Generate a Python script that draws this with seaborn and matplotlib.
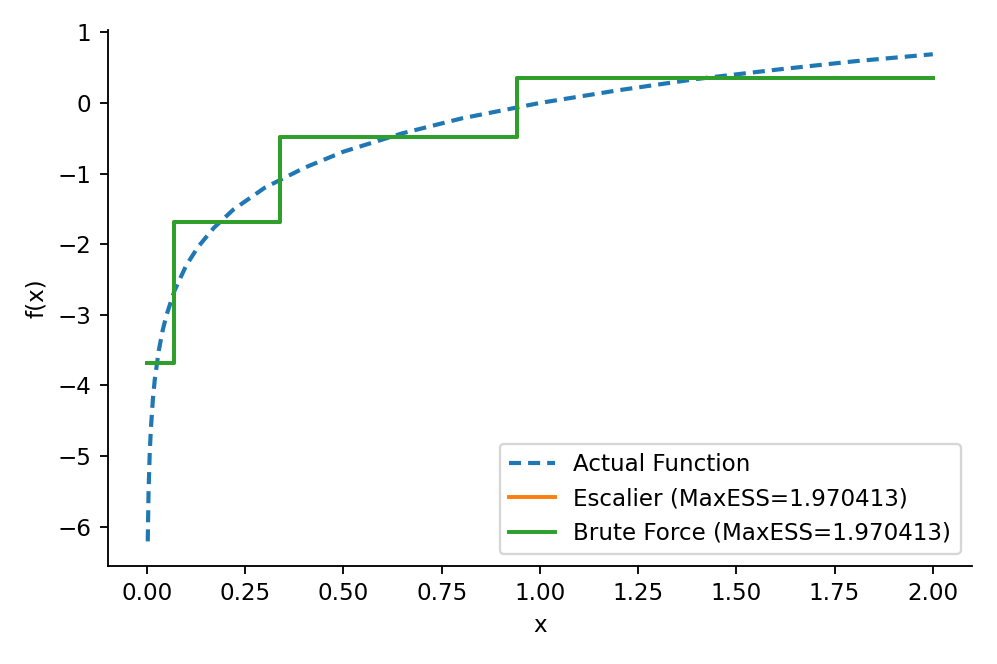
import matplotlib
matplotlib.use("Agg")
import matplotlib.pyplot as plt
import seaborn as sns

# points (fonction réelle)
x_curve = [0.002, 0.004, 0.007, 0.01, 0.015, 0.02, 0.03, 0.04, 0.05, 0.07,
           0.1, 0.13, 0.17, 0.22, 0.3, 0.4, 0.5, 0.65, 0.8, 1.0,
           1.2, 1.4, 1.6, 1.8, 2.0]
y_curve = [-6.21, -5.52, -4.96, -4.61, -4.20, -3.91, -3.51, -3.22, -3.00, -2.66,
           -2.30, -2.04, -1.77, -1.51, -1.20, -0.92, -0.69, -0.43, -0.22, 0.0,
           0.18, 0.34, 0.47, 0.59, 0.69]

# escalier (les deux méthodes donnent le même résultat)
x_steps = [0.0, 0.069, 0.339, 0.943, 2.0]
y_steps = [-3.69, -1.68, -0.48, 0.36, 0.36]

label_curve = "Actual Function"
label_esc = "Escalier (MaxESS=1.970413)"
label_bf = "Brute Force (MaxESS=1.970413)"

fig, ax = plt.subplots(figsize=(997 / 166, 664 / 166), dpi=166)

sns.lineplot(x=x_curve, y=y_curve, ax=ax, color="#1f77b4",
             linestyle=(0, (2.9, 1.7)), linewidth=1.8, label=label_curve)
sns.lineplot(x=x_steps, y=y_steps, ax=ax, color="#ff7f0e", linewidth=1.7,
             drawstyle="steps-post", label=label_esc)
sns.lineplot(x=x_steps, y=y_steps, ax=ax, color="#2ca02c", linewidth=1.7,
             drawstyle="steps-post", label=label_bf)

ax.set_xlabel("x")
ax.set_ylabel("f(x)")
ax.set_xticks([0, 0.25, 0.5, 0.75, 1.0, 1.25, 1.5, 1.75, 2.0])
ax.legend(loc="lower right")
sns.despine()

plt.subplots_adjust(left=0.108, right=0.975, top=0.955, bottom=0.148)
plt.savefig("out.png", dpi=166)
